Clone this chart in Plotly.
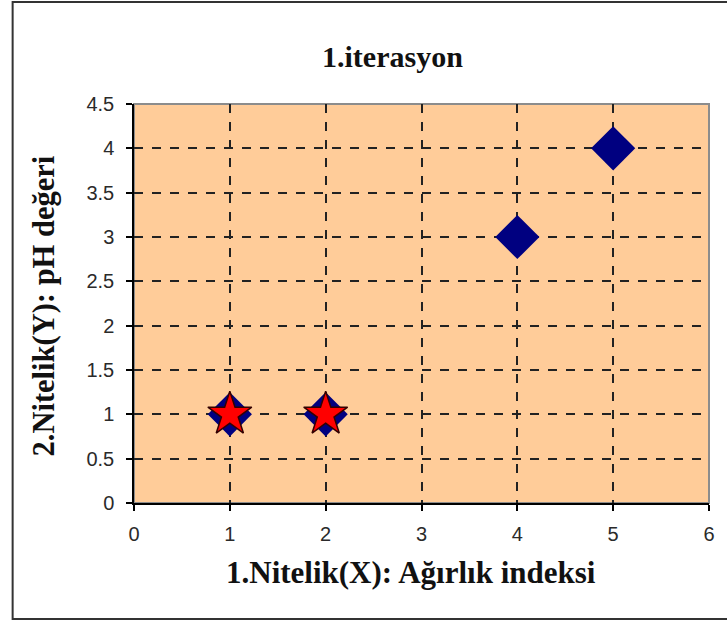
import plotly.graph_objects as go

# Data
points_x = [1, 2, 4, 5]
points_y = [1, 1, 3, 4]
centroid_x = [1, 2]
centroid_y = [1, 1]

x_ticks = [0, 1, 2, 3, 4, 5, 6]
y_ticks = [0, 0.5, 1, 1.5, 2, 2.5, 3, 3.5, 4, 4.5]
y_tick_labels = ["0", "0.5", "1", "1.5", "2", "2.5", "3", "3.5", "4", "4.5"]

W, H = 727, 624
L, R, T, B = 134, 15, 104, 121
pw = W - L - R
ph = H - T - B

def px_to_paper_x(px):
    return (px - L) / pw

def px_to_paper_y(py):
    return (H - B - py) / ph

fig = go.Figure()

fig.add_trace(go.Scatter(
    x=points_x, y=points_y, mode="markers",
    marker=dict(symbol="diamond", size=34, color="#000080", line=dict(width=0)),
    showlegend=False, cliponaxis=False,
))
fig.add_trace(go.Scatter(
    x=centroid_x, y=centroid_y, mode="markers",
    marker=dict(symbol="star", size=33, color="#FF0000", line=dict(width=1.5, color="#330000")),
    showlegend=False, cliponaxis=False,
))

fig.update_layout(
    width=W, height=H,
    margin=dict(l=L, r=R, t=T, b=B),
    paper_bgcolor="white",
    plot_bgcolor="#FFCC99",
    showlegend=False,
    annotations=[
        dict(text="<b>1.iterasyon</b>", x=px_to_paper_x(394), y=px_to_paper_y(57),
             xref="paper", yref="paper", showarrow=False,
             xanchor="center", yanchor="middle",
             font=dict(family="Liberation Serif", size=30, color="#111111")),
        dict(text="<b>1.Nitelik(X): Ağırlık indeksi</b>", x=px_to_paper_x(412), y=px_to_paper_y(572),
             xref="paper", yref="paper", showarrow=False,
             xanchor="center", yanchor="middle",
             font=dict(family="Liberation Serif", size=31, color="#111111")),
        dict(text="<b>2.Nitelik(Y): pH değeri</b>", x=px_to_paper_x(44), y=px_to_paper_y(306),
             xref="paper", yref="paper", showarrow=False, textangle=-90,
             xanchor="center", yanchor="middle",
             font=dict(family="Liberation Serif", size=30.5, color="#111111")),
    ],
    shapes=[
        # outer chart border
        dict(type="rect", xref="paper", yref="paper",
             x0=px_to_paper_x(12), x1=px_to_paper_x(760),
             y0=px_to_paper_y(619), y1=px_to_paper_y(2),
             line=dict(color="#333333", width=2), layer="below"),
        # plot area border (gray top/right)
        dict(type="rect", xref="paper", yref="paper", x0=0, x1=1, y0=0, y1=1,
             line=dict(color="#8c8c8c", width=2), layer="below"),
    ],
)

fig.update_xaxes(
    range=[0, 6], tickvals=x_ticks, ticktext=[str(v) for v in x_ticks],
    showgrid=True, gridcolor="#222222", griddash="dash", gridwidth=1.5,
    zeroline=False, showline=True, linecolor="black", linewidth=1.5,
    ticks="outside", ticklen=6, tickcolor="black", tickwidth=1.5,
    ticklabelstandoff=6,
    tickfont=dict(family="Liberation Sans", size=20, color="#2a2a2a"),
)
fig.update_yaxes(
    range=[0, 4.5], tickvals=y_ticks, ticktext=y_tick_labels,
    showgrid=True, gridcolor="#222222", griddash="dash", gridwidth=1.5,
    zeroline=False, showline=True, linecolor="black", linewidth=1.5,
    ticks="outside", ticklen=6, tickcolor="black", tickwidth=1.5,
    ticklabelstandoff=8,
    tickfont=dict(family="Liberation Sans", size=20, color="#2a2a2a"),
)

fig.write_html("out.html")
